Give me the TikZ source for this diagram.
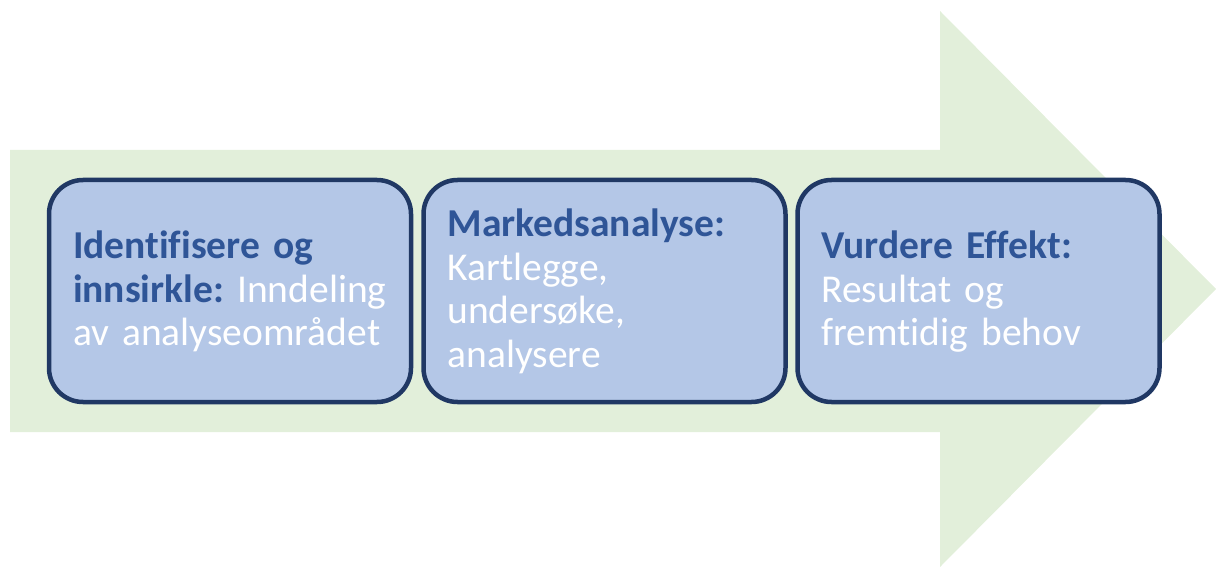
\documentclass[tikz,border=0pt]{standalone}
\usepackage{fontspec}
\setmainfont{Carlito}[RawFeature=-liga]
\usetikzlibrary{positioning}
\definecolor{arrowgreen}{HTML}{E2EFDA}
\definecolor{boxfill}{HTML}{B4C7E7}
\definecolor{boxline}{HTML}{203864}
\definecolor{headblue}{HTML}{2F5597}
\tikzset{
  step box/.style={rounded corners=34pt,draw=boxline,fill=boxfill,line width=4.5pt,
    minimum width=362pt,minimum height=222pt,inner xsep=24pt,text width=314pt,
    align=left,text=white,font=\fontsize{39.5}{44}\selectfont}
}
\newcommand{\hd}[1]{{\bfseries\color{headblue}#1}}
\newcommand{\ls}{\rule[-11pt]{0pt}{44pt}}
\begin{document}
\begin{tikzpicture}[x=1pt,y=-1pt]
\path[use as bounding box] (0,0) rectangle (1216,567);
% big arrow in the background
\fill[arrowgreen] (10,150) -- (940,150) -- (940,11) -- (1216,289) -- (940,567) -- (940,432) -- (10,432) -- cycle;
% the three steps
\node[step box] (ident) at (230,291) {\ls\hd{Identifisere og}\\\hd{innsirkle:}~Inndeling\\av analyseområdet\ls};
\node[step box] (marked) at (604.5,291) {\ls\hd{Markedsanalyse:}\\Kartlegge,\\undersøke,\\analysere\ls};
\node[step box] (effekt) at (978.5,291) {\ls\hd{Vurdere Effekt:}\\Resultat og\\fremtidig behov\ls};
\end{tikzpicture}
\end{document}
